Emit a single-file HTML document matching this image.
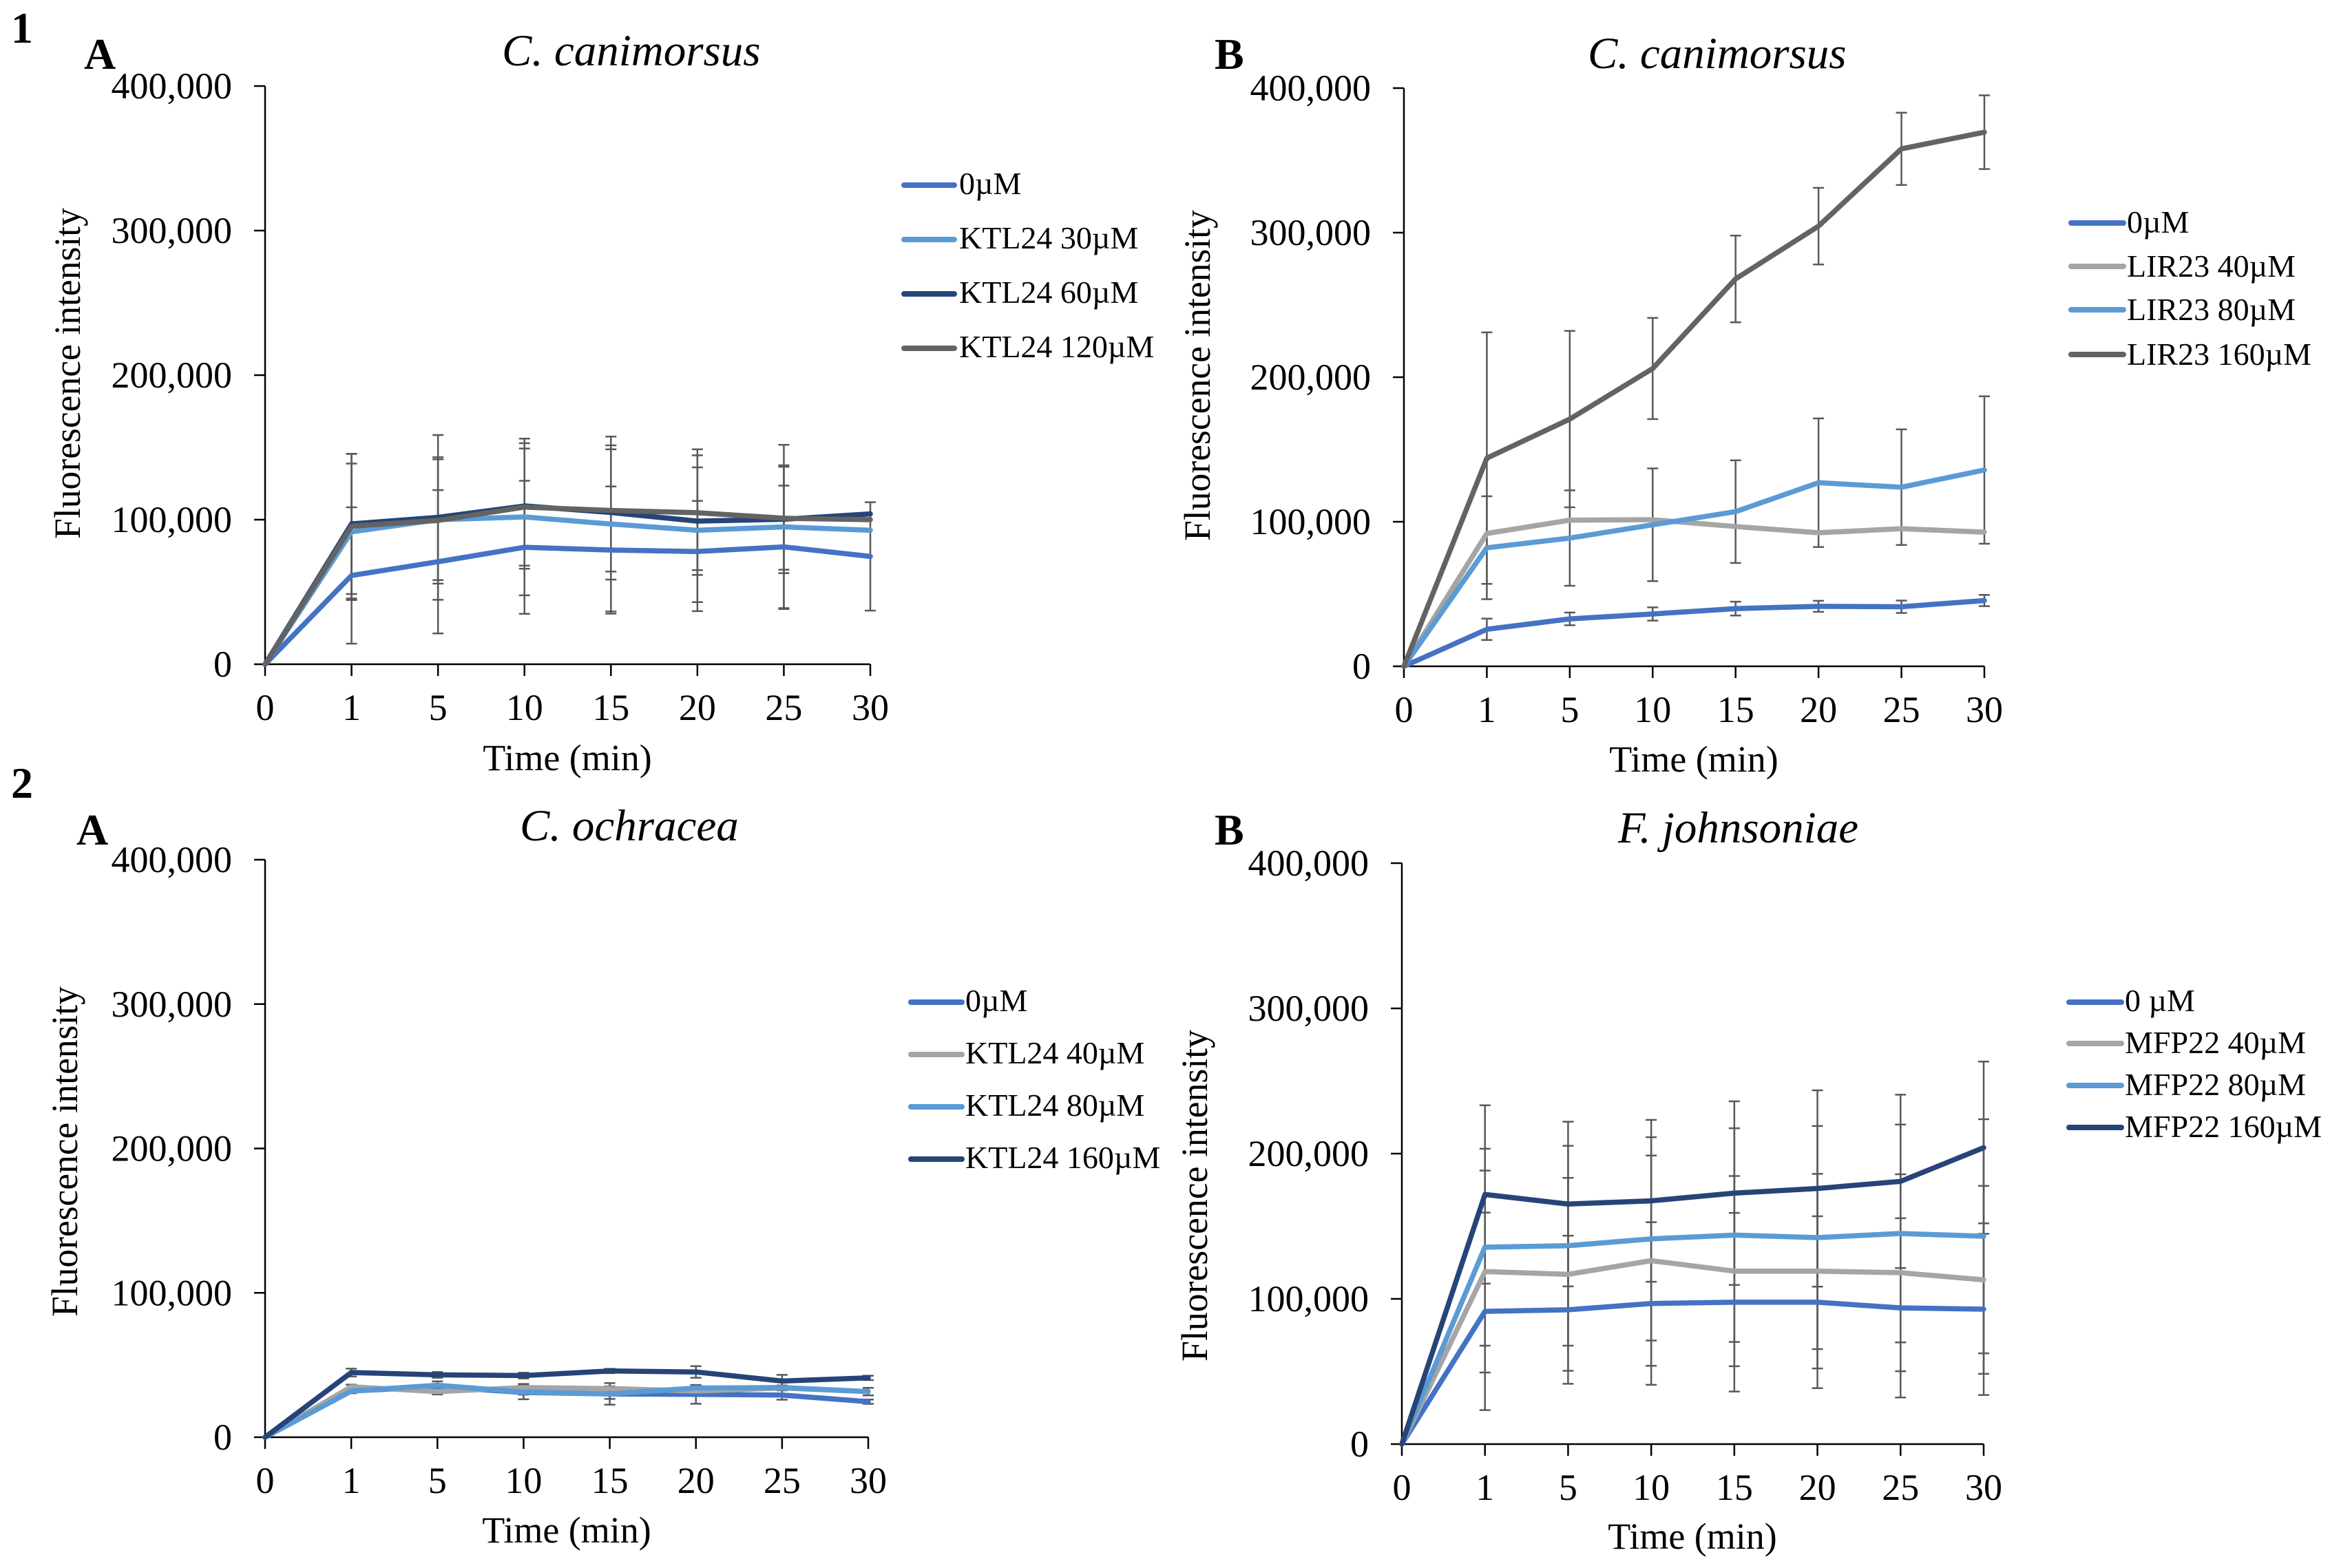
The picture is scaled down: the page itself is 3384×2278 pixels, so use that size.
<!DOCTYPE html>
<html lang="en">
<head>
<meta charset="utf-8">
<title>Fluorescence intensity over time</title>
<style>
html,body{margin:0;padding:0;background:#fff;width:3384px;height:2278px;overflow:hidden}
svg{display:block}
text{font-family:"Liberation Serif","DejaVu Serif",serif;fill:#000}
.tick{font-size:54px}
.axt{font-size:54px}
.yt{font-size:54px}
.ttl{font-size:65px;font-style:italic}
.let{font-size:64px;font-weight:bold}
.leg{font-size:46px}
.ll{stroke-width:8;stroke-linecap:round;fill:none}
</style>
</head>
<body>
<svg id="figure" xmlns="http://www.w3.org/2000/svg" width="3384" height="2278" viewBox="0 0 3384 2278">
  <rect x="0" y="0" width="3384" height="2278" fill="#fff"/>

  <text class="let" x="16" y="62">1</text>
  <text class="let" x="16" y="1159">2</text>

  <g id="p1a">
    <text class="let" x="122" y="100">A</text>
    <text class="ttl" x="729" y="95">C. canimorsus</text>
    <text class="yt" transform="translate(116 783) rotate(-90)" textLength="481" lengthAdjust="spacingAndGlyphs">Fluorescence intensity</text>
    <text class="axt" x="824" y="1119" text-anchor="middle">Time (min)</text>
    <g>
      <line class="ll" x1="1313" y1="269" x2="1386" y2="269" stroke="#4472c4"/>
      <text class="leg" x="1393" y="282">0µM</text>
      <line class="ll" x1="1313" y1="348" x2="1386" y2="348" stroke="#5b9bd5"/>
      <text class="leg" x="1393" y="361">KTL24 30µM</text>
      <line class="ll" x1="1313" y1="427" x2="1386" y2="427" stroke="#264478"/>
      <text class="leg" x="1393" y="440">KTL24 60µM</text>
      <line class="ll" x1="1313" y1="506" x2="1386" y2="506" stroke="#636363"/>
      <text class="leg" x="1393" y="519">KTL24 120µM</text>
    </g>
  </g>

  <g id="p1b">
    <text class="let" x="1764" y="100">B</text>
    <text class="ttl" x="2306" y="99">C. canimorsus</text>
    <text class="yt" transform="translate(1757 786) rotate(-90)" textLength="481" lengthAdjust="spacingAndGlyphs">Fluorescence intensity</text>
    <text class="axt" x="2460" y="1121" text-anchor="middle">Time (min)</text>
    <g>
      <line class="ll" x1="3008" y1="324" x2="3084" y2="324" stroke="#4472c4"/>
      <text class="leg" x="3089" y="338">0µM</text>
      <line class="ll" x1="3008" y1="387" x2="3084" y2="387" stroke="#a5a5a5"/>
      <text class="leg" x="3089" y="402">LIR23 40µM</text>
      <line class="ll" x1="3008" y1="450" x2="3084" y2="450" stroke="#5b9bd5"/>
      <text class="leg" x="3089" y="465">LIR23 80µM</text>
      <line class="ll" x1="3008" y1="515" x2="3084" y2="515" stroke="#636363"/>
      <text class="leg" x="3089" y="530">LIR23 160µM</text>
    </g>
  </g>

  <g id="p2a">
    <text class="let" x="111" y="1227">A</text>
    <text class="ttl" x="755" y="1221">C. ochracea</text>
    <text class="yt" transform="translate(112 1913) rotate(-90)" textLength="480" lengthAdjust="spacingAndGlyphs">Fluorescence intensity</text>
    <text class="axt" x="823" y="2241" text-anchor="middle">Time (min)</text>
    <g>
      <line class="ll" x1="1323" y1="1456" x2="1397" y2="1456" stroke="#4472c4"/>
      <text class="leg" x="1402" y="1469">0µM</text>
      <line class="ll" x1="1323" y1="1532" x2="1397" y2="1532" stroke="#a5a5a5"/>
      <text class="leg" x="1402" y="1545">KTL24 40µM</text>
      <line class="ll" x1="1323" y1="1608" x2="1397" y2="1608" stroke="#5b9bd5"/>
      <text class="leg" x="1402" y="1621">KTL24 80µM</text>
      <line class="ll" x1="1323" y1="1684" x2="1397" y2="1684" stroke="#264478"/>
      <text class="leg" x="1402" y="1697">KTL24 160µM</text>
    </g>
  </g>

  <g id="p2b">
    <text class="let" x="1764" y="1227">B</text>
    <text class="ttl" x="2350" y="1224">F. johnsoniae</text>
    <text class="yt" transform="translate(1753 1978) rotate(-90)" textLength="482" lengthAdjust="spacingAndGlyphs">Fluorescence intensity</text>
    <text class="axt" x="2458" y="2250" text-anchor="middle">Time (min)</text>
    <g>
      <line class="ll" x1="3005" y1="1456" x2="3081" y2="1456" stroke="#4472c4"/>
      <text class="leg" x="3086" y="1469">0 µM</text>
      <line class="ll" x1="3005" y1="1516" x2="3081" y2="1516" stroke="#a5a5a5"/>
      <text class="leg" x="3086" y="1530">MFP22 40µM</text>
      <line class="ll" x1="3005" y1="1577" x2="3081" y2="1577" stroke="#5b9bd5"/>
      <text class="leg" x="3086" y="1591">MFP22 80µM</text>
      <line class="ll" x1="3005" y1="1638" x2="3081" y2="1638" stroke="#264478"/>
      <text class="leg" x="3086" y="1652">MFP22 160µM</text>
    </g>
  </g>
</svg>

<script>
// Shared axis data
const categories = ['0','1','5','10','15','20','25','30'];
const yTickValues = [0,100000,200000,300000,400000];
const yTickLabels = ['0','100,000','200,000','300,000','400,000'];
const yMax = 400000;

// Panel 1A: C. canimorsus, KTL24
const a1_0   = [0,61400,70900,80900,79000,78000,81200,74600];
const a1_30  = [0,91600,100000,101900,97000,92700,95000,92700];
const a1_60  = [0,97100,101600,109500,105000,99000,100300,104000];
const a1_120 = [0,95500,99500,108700,106400,104800,101000,100000];
const a1_0_err   = [0,47200,49600,46000,44000,35000,42400,37500];
const a1_30_err  = [0,47200,41800,54200,60500,56000,56800,0];
const a1_60_err  = [0,48500,57000,43400,46400,37200,37300,0];
const a1_120_err = [0,50000,43700,40500,42300,39700,35600,0];

// Panel 1B: C. canimorsus, LIR23
const b1_0   = [0,25600,32800,36200,39900,41500,41200,45500];
const b1_40  = [0,91900,101100,101400,96700,92400,95200,92800];
const b1_80  = [0,82000,88700,97900,107000,127000,123900,135800];
const b1_160 = [0,144000,171000,206000,268000,304500,358000,369500];
const b1_0_err   = [0,7400,4400,4600,4800,3800,4300,3900];
const b1_40_err  = [0,0,0,0,0,0,0,0];
const b1_80_err  = [0,35600,33000,39000,35500,44500,40000,51000];
const b1_160_err = [0,87000,61000,35000,30000,26500,25000,25500];

// Panel 2A: C. ochracea, KTL24
const a2_0   = [0,32000,35000,31000,30000,29700,29200,24600];
const a2_40  = [0,34900,31600,34400,33700,32000,34100,31600];
const a2_80  = [0,32000,36000,31300,30000,34100,34400,31600];
const a2_160 = [0,44800,43200,42700,45900,45200,38900,41100];
const a2_0_err   = [0,1500,1500,1500,7500,6500,3200,1500];
const a2_40_err  = [0,1500,2000,2500,1500,1500,1500,2600];
const a2_80_err  = [0,1500,2700,5000,3500,2000,1500,2600];
const a2_160_err = [0,2700,2000,2000,1500,4000,4300,1500];

// Panel 2B: F. johnsoniae, MFP22
const b2_0   = [0,91400,92500,96800,97700,97700,93800,92900];
const b2_40  = [0,118800,116900,126300,119100,119100,118000,113100];
const b2_80  = [0,135600,136600,141300,143900,142200,145000,143100];
const b2_160 = [0,171900,165300,167500,172800,176000,180900,204100];
const b2_0_err   = [0,68000,51000,56000,61500,59200,61700,59100];
const b2_40_err  = [0,69500,66400,72400,65500,67000,67800,64700];
const b2_80_err  = [0,67800,68800,70000,73600,76800,75000,80600];
const b2_160_err = [0,61400,56700,55700,63200,67600,59700,59300];

const NS = 'http://www.w3.org/2000/svg';
const C_BLUE = '#4472c4', C_LIGHT = '#5b9bd5', C_NAVY = '#264478', C_GRAPH = '#636363', C_GRAY = '#a5a5a5';

function make(tag, parent) {
  const el = document.createElementNS(NS, tag);
  parent.appendChild(el);
  return el;
}
function seg(el, x1, y1, x2, y2, color, w) {
  el.setAttribute('x1', x1);
  el.setAttribute('y1', y1);
  el.setAttribute('x2', x2);
  el.setAttribute('y2', y2);
  el.setAttribute('stroke', color);
  el.setAttribute('stroke-width', w);
}

function drawPanel(groupId, frame, series) {
  const root = document.getElementById(groupId);
  const xScale = i => frame.x0 + i * (frame.x1 - frame.x0) / (categories.length - 1);
  const yScale = v => frame.y0 - (v / yMax) * (frame.y0 - frame.yTop);

  // Error bars, beneath the lines
  series.forEach(s => {
    const g = make('g', root);
    
    
    s.values.forEach((v, i) => {
      const e = s.err[i];
      if (!e) return;
      const x = xScale(i);
      const stem = make('line', g);
      
      
      seg(stem, x, yScale(v + e), x, yScale(v - e), '#595959', 2.5);
      const capHi = make('line', g);
      
      
      seg(capHi, x - 8, yScale(v + e), x + 8, yScale(v + e), '#595959', 2.5);
      const capLo = make('line', g);
      
      
      seg(capLo, x - 8, yScale(v - e), x + 8, yScale(v - e), '#595959', 2.5);
    });
  });

  // Axes
  const yAxis = make('line', root);
  
  
  seg(yAxis, frame.x0, yScale(yMax), frame.x0, frame.y0, '#000', 2.5);
  const xAxis = make('line', root);
  
  
  seg(xAxis, frame.x0, frame.y0, frame.x1, frame.y0, '#000', 2.5);

  yTickValues.forEach((v, i) => {
    const t = make('line', root);
    
    
    seg(t, frame.x0 - 16, yScale(v), frame.x0, yScale(v), '#000', 2.5);
    const lab = make('text', root);
    
    
    lab.setAttribute('class', 'tick');
    lab.setAttribute('x', frame.x0 - 48);
    lab.setAttribute('y', yScale(v) + 18);
    lab.setAttribute('text-anchor', 'end');
    lab.textContent = yTickLabels[i];
  });
  categories.forEach((c, i) => {
    const t = make('line', root);
    
    
    seg(t, xScale(i), frame.y0, xScale(i), frame.y0 + 17, '#000', 2.5);
    const lab = make('text', root);
    
    
    lab.setAttribute('class', 'tick');
    lab.setAttribute('x', xScale(i));
    lab.setAttribute('y', frame.y0 + 81);
    lab.setAttribute('text-anchor', 'middle');
    lab.textContent = c;
  });

  // Series lines
  series.forEach(s => {
    const p = make('polyline', root);
    
    
    p.setAttribute('points', s.values.map((v, i) => xScale(i) + ',' + yScale(v)).join(' '));
    p.setAttribute('fill', 'none');
    p.setAttribute('stroke', s.color);
    p.setAttribute('stroke-width', 7.5);
    p.setAttribute('stroke-linejoin', 'round');
    p.setAttribute('stroke-linecap', 'round');
  });
}

drawPanel('p1a', {x0:385, x1:1264, y0:965, yTop:125}, [
  {key:'0um', values:a1_0, err:a1_0_err, color:C_BLUE},
  {key:'ktl24-30um', values:a1_30, err:a1_30_err, color:C_LIGHT},
  {key:'ktl24-60um', values:a1_60, err:a1_60_err, color:C_NAVY},
  {key:'ktl24-120um', values:a1_120, err:a1_120_err, color:C_GRAPH}
]);
drawPanel('p1b', {x0:2039, x1:2882, y0:968, yTop:128}, [
  {key:'0um', values:b1_0, err:b1_0_err, color:C_BLUE},
  {key:'lir23-40um', values:b1_40, err:b1_40_err, color:C_GRAY},
  {key:'lir23-80um', values:b1_80, err:b1_80_err, color:C_LIGHT},
  {key:'lir23-160um', values:b1_160, err:b1_160_err, color:C_GRAPH}
]);
drawPanel('p2a', {x0:385, x1:1261, y0:2088, yTop:1249}, [
  {key:'0um', values:a2_0, err:a2_0_err, color:C_BLUE},
  {key:'ktl24-40um', values:a2_40, err:a2_40_err, color:C_GRAY},
  {key:'ktl24-80um', values:a2_80, err:a2_80_err, color:C_LIGHT},
  {key:'ktl24-160um', values:a2_160, err:a2_160_err, color:C_NAVY}
]);
drawPanel('p2b', {x0:2036, x1:2881, y0:2098, yTop:1254}, [
  {key:'0um', values:b2_0, err:b2_0_err, color:C_BLUE},
  {key:'mfp22-40um', values:b2_40, err:b2_40_err, color:C_GRAY},
  {key:'mfp22-80um', values:b2_80, err:b2_80_err, color:C_LIGHT},
  {key:'mfp22-160um', values:b2_160, err:b2_160_err, color:C_NAVY}
]);
</script>
</body>
</html>
